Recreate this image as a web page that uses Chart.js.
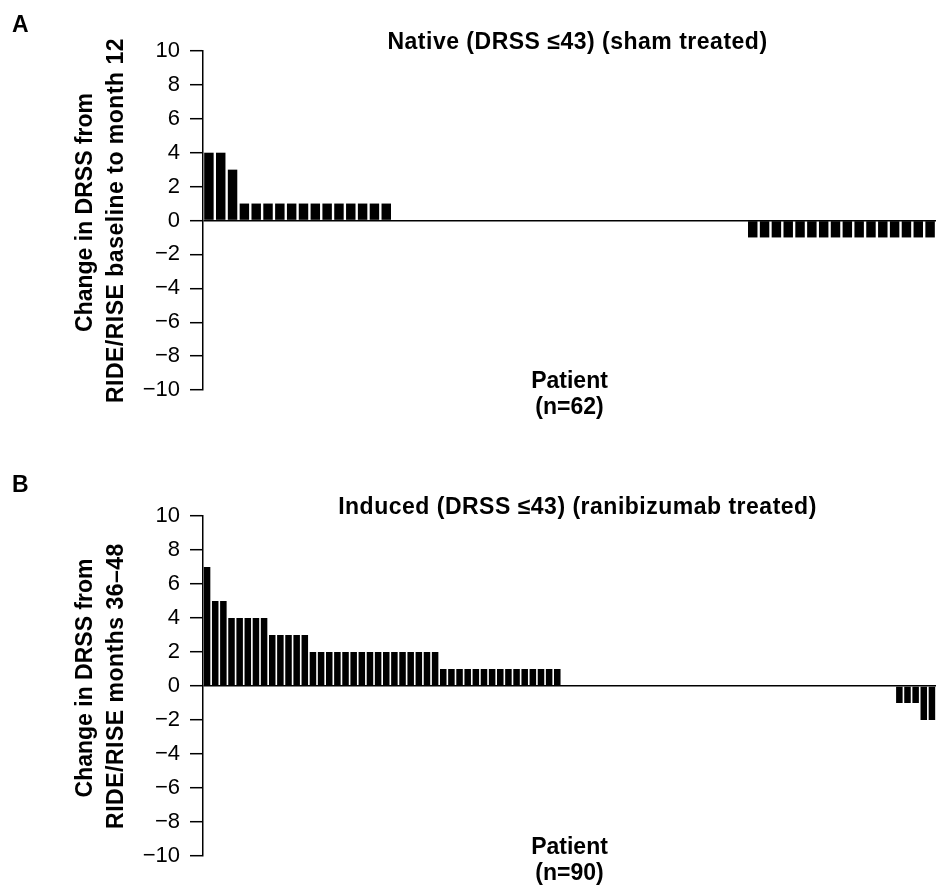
<!DOCTYPE html>
<html>
<head>
<meta charset="utf-8">
<script src="https://cdn.jsdelivr.net/npm/chart.js@4.4.1/dist/chart.umd.min.js"></script>
<style>
  body { margin: 0; background: #fff; }
  #wrap { position: relative; width: 936px; height: 889px; overflow: hidden; }
  canvas { position: absolute; left: 0; }
  #chartA { top: 0; }
  #chartB { top: 444px; }
</style>
</head>
<body>
<div id="wrap">
  <canvas id="chartA" width="936" height="444"></canvas>
  <canvas id="chartB" width="936" height="445"></canvas>
</div>
<script>
// Change in DRSS per patient, sorted high to low.
// Panel A: native, sham treated (n=62)
var changeA = [
  4, 4, 3,
  1, 1, 1, 1, 1, 1, 1, 1, 1, 1, 1, 1, 1,
  0, 0, 0, 0, 0, 0, 0, 0, 0, 0,
  0, 0, 0, 0, 0, 0, 0, 0, 0, 0,
  0, 0, 0, 0, 0, 0, 0, 0, 0, 0,
  -1, -1, -1, -1, -1, -1, -1, -1, -1, -1, -1, -1, -1, -1, -1, -1
];

// Panel B: induced, ranibizumab treated (n=90)
var changeB = [
  7, 5, 5, 4, 4, 4, 4, 4, 3, 3, 3, 3, 3,
  2, 2, 2, 2, 2, 2, 2, 2, 2, 2, 2, 2, 2, 2, 2, 2,
  1, 1, 1, 1, 1, 1, 1, 1, 1, 1, 1, 1, 1, 1, 1,
  0, 0, 0, 0, 0, 0, 0, 0, 0, 0,
  0, 0, 0, 0, 0, 0, 0, 0, 0, 0,
  0, 0, 0, 0, 0, 0, 0, 0, 0, 0,
  0, 0, 0, 0, 0, 0, 0, 0, 0, 0,
  0,
  -1, -1, -1, -2, -2
];

var yTicks = [-10, -8, -6, -4, -2, 0, 2, 4, 6, 8, 10];

var titleA = 'Native (DRSS \u226443) (sham treated)';
var titleB = 'Induced (DRSS \u226443) (ranibizumab treated)';
var yTitleA = ['Change in DRSS from', 'RIDE/RISE baseline to month 12'];
var yTitleB = ['Change in DRSS from', 'RIDE/RISE months 36\u201348'];
var xTitleA = ['Patient', '(n=62)'];
var xTitleB = ['Patient', '(n=90)'];

var FONT = '"Liberation Sans", Arial, Helvetica, sans-serif';

// Draws panel letter, title, y title and the "Patient" label.
var panelText = {
  id: 'panelText',
  afterDraw: function(chart, args, opts) {
    var ctx = chart.ctx, area = chart.chartArea;
    var mid = (area.left + area.right) / 2;
    var yMid = (area.top + area.bottom) / 2;
    ctx.save();
    ctx.fillStyle = '#000';
    ctx.textBaseline = 'middle';
    ctx.font = 'bold 23px ' + FONT;

    ctx.textAlign = 'left';
    ctx.fillText(opts.letter, 12, opts.letterY);

    ctx.textAlign = 'center';
    ctx.fillText(opts.xTitle[0], mid, area.bottom - 8);
    ctx.fillText(opts.xTitle[1], mid, area.bottom + 18);

    ctx.letterSpacing = '0.5px';
    ctx.fillText(opts.title, mid + 8, area.top - 8);

    // rotated y title, two lines
    ctx.save();
    ctx.translate(86, yMid);
    ctx.rotate(-Math.PI / 2);
    ctx.letterSpacing = '0px';
    ctx.fillText(opts.yTitle[0], 8, 0);
    ctx.letterSpacing = '0.5px';
    ctx.fillText(opts.yTitle[1], 0, 31);
    ctx.restore();

    ctx.restore();
  }
};

function makeChart(id, values, padTop, padBottom, text) {
  var labels = values.map(function(v, i) { return String(i + 1); });
  return new Chart(document.getElementById(id), {
    type: 'bar',
    data: {
      labels: labels,
      datasets: [{
        data: values,
        backgroundColor: '#000',
        borderWidth: 0,
        barPercentage: 0.8,
        categoryPercentage: 1.0
      }]
    },
    plugins: [panelText],
    options: {
      responsive: false,
      animation: false,
      devicePixelRatio: 1,
      layout: { padding: { top: padTop, bottom: padBottom, left: 0, right: 0 } },
      plugins: {
        legend: { display: false },
        tooltip: { enabled: false },
        panelText: text
      },
      scales: {
        x: { display: false },
        y: {
          min: -10,
          max: 10,
          afterFit: function(s) { s.width = 203; },
          afterBuildTicks: function(s) {
            s.ticks = yTicks.map(function(v) { return { value: v }; });
          },
          ticks: {
            color: '#000',
            padding: 10,
            font: { family: FONT, size: 22 },
            callback: function(v) { return v < 0 ? '\u2212' + Math.abs(v) : String(v); }
          },
          grid: {
            drawOnChartArea: true,
            drawTicks: true,
            tickLength: 13,
            tickColor: '#000',
            tickWidth: 1.5,
            lineWidth: 1.4,
            color: function(c) {
              return (c.tick && c.tick.value === 0) ? '#000' : 'rgba(0,0,0,0)';
            }
          },
          border: { display: true, color: '#000', width: 1.5 }
        }
      }
    }
  });
}

makeChart('chartA', changeA, 51, 54,
  { letter: 'A', letterY: 25.5, title: titleA, yTitle: yTitleA, xTitle: xTitleA });
makeChart('chartB', changeB, 72, 33,
  { letter: 'B', letterY: 41.5, title: titleB, yTitle: yTitleB, xTitle: xTitleB });
</script>
</body>
</html>
